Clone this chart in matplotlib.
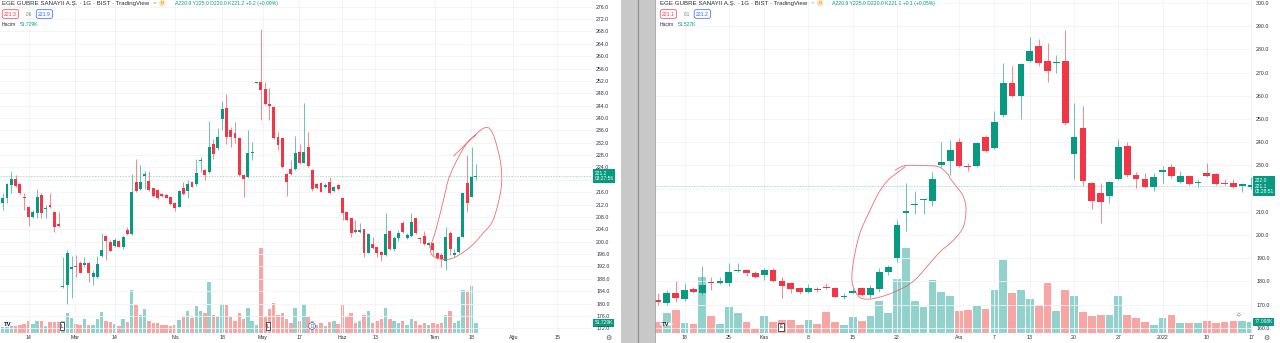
import matplotlib
matplotlib.use('Agg')
import matplotlib.pyplot as plt
import matplotlib.transforms as mtransforms
from matplotlib.patches import Rectangle, Circle
from matplotlib.lines import Line2D
import numpy as np

plt.rcParams['font.family'] = ['Liberation Sans', 'DejaVu Sans']

UP = '#089981'
DOWN = '#f23645'
UP_VOL = '#92d2cc'
DOWN_VOL = '#f7a6a3'
GRID = '#f1f3f7'
TEXT = '#2a2e39'
BLUE = '#2962ff'

# EGE GUBRE, daily, Feb - Jul 2021
left_open = [212.4, 214.2, 218.4, 220.2, 218.7, 214.6, 211.3, 208.1, 209.4, 215.1,
             210.5, 211.9, 209.7, 205.7, 185.2, 186.0, 191.1, 192.2, 193.0, 192.6,
             193.0, 188.5, 188.5, 195.4, 201.8, 199.9, 198.6, 200.2, 198.4, 203.8,
             202.5, 219.4, 217.0, 221.4, 219.6, 217.3, 216.7, 215.4, 215.1, 214.6,
             212.6, 211.3, 217.5, 216.5, 219.2, 218.5, 226.0, 223.2, 222.6, 231.6,
             230.2, 239.6, 243.1, 236.1, 235.3, 233.4, 221.6, 220.8, 228.6, 251.4,
             251.8, 249.4, 244.5, 243.7, 233.8, 233.4, 221.9, 223.4, 223.5, 229.1,
             225.6, 230.5, 223.2, 218.7, 219.1, 217.8, 219.4, 216.5, 218.3, 214.0,
             209.7, 207.6, 203.8, 203.1, 204.0, 196.5, 199.3, 198.2, 196.8, 195.6,
             203.6, 197.5, 201.1, 206.2, 201.1, 201.8, 207.6, 201.3, 201.8, 198.9,
             199.5, 196.2, 195.7, 193.6, 202.9, 195.7, 196.8, 201.6, 218.9, 214.6,
             220.9]
left_high = [215.9, 219.1, 223.0, 221.6, 218.9, 215.9, 211.5, 210.2, 216.9, 215.6,
             211.9, 215.6, 209.9, 209.7, 194.9, 197.3, 195.4, 195.7, 193.9, 195.2,
             193.5, 190.8, 195.4, 202.7, 202.2, 200.7, 201.1, 200.7, 202.2, 204.6,
             221.9, 226.7, 224.8, 223.0, 222.9, 217.5, 216.9, 215.6, 215.3, 214.8,
             212.9, 216.7, 219.4, 219.9, 219.4, 226.6, 227.3, 223.4, 239.1, 233.2,
             236.7, 245.5, 247.8, 237.2, 238.8, 233.8, 221.8, 236.1, 232.3, 251.8,
             268.7, 251.8, 249.6, 243.9, 235.4, 233.6, 222.1, 226.4, 234.2, 231.6,
             244.7, 235.4, 223.4, 218.9, 219.4, 218.9, 220.8, 218.1, 218.7, 214.2,
             209.9, 207.8, 207.0, 206.2, 204.2, 202.7, 201.6, 198.4, 197.0, 209.2,
             203.8, 202.0, 203.8, 206.6, 202.7, 209.2, 207.8, 201.6, 203.3, 200.0,
             199.7, 196.8, 196.2, 204.6, 203.3, 197.5, 202.0, 215.9, 228.0, 230.7,
             225.0]
left_low = [210.2, 212.4, 215.6, 217.8, 215.4, 210.2, 205.2, 207.6, 207.6, 207.6,
            207.6, 210.8, 203.2, 204.9, 184.9, 179.7, 181.7, 188.7, 189.8, 191.9,
            187.1, 186.0, 188.3, 195.2, 194.1, 197.0, 198.2, 198.2, 197.6, 202.2,
            202.2, 216.2, 216.7, 216.9, 216.4, 214.6, 213.8, 214.3, 214.0, 211.9,
            210.0, 211.1, 215.1, 214.0, 217.6, 218.0, 222.6, 219.9, 222.3, 226.7,
            229.7, 236.1, 231.6, 230.7, 232.0, 221.4, 214.6, 220.5, 226.4, 251.3,
            239.4, 244.2, 239.4, 233.1, 229.7, 223.7, 214.8, 221.6, 223.2, 225.1,
            225.3, 224.3, 216.5, 217.0, 216.0, 217.5, 215.4, 216.2, 216.7, 207.0,
            206.8, 201.4, 202.7, 202.7, 195.2, 196.2, 197.7, 194.9, 193.9, 195.4,
            197.3, 197.1, 200.3, 202.9, 200.8, 201.6, 202.5, 199.7, 198.9, 198.4,
            195.7, 194.3, 191.7, 190.9, 195.7, 195.2, 196.2, 201.4, 209.7, 214.3,
            220.0]
left_close = [214.2, 218.5, 220.2, 218.1, 215.6, 214.2, 207.9, 209.7, 214.6, 209.2,
              210.8, 211.3, 204.6, 205.2, 185.5, 196.4, 191.7, 191.7, 190.0, 193.2,
              190.0, 190.0, 192.8, 197.3, 200.1, 197.1, 200.5, 198.4, 201.4, 202.5,
              216.2, 216.5, 219.4, 221.7, 216.7, 214.9, 214.0, 214.7, 214.2, 212.1,
              210.8, 216.5, 215.3, 218.5, 217.8, 222.1, 226.4, 221.6, 230.7, 228.3,
              233.8, 242.8, 234.0, 234.0, 233.4, 221.6, 220.2, 228.8, 228.9, 251.7,
              249.1, 244.5, 243.9, 233.4, 231.3, 224.3, 219.4, 221.9, 228.8, 225.3,
              229.1, 224.6, 216.9, 217.3, 216.2, 218.3, 215.6, 217.8, 216.9, 209.4,
              207.0, 202.7, 203.1, 203.8, 196.5, 202.4, 198.0, 196.2, 195.6, 202.4,
              197.6, 201.1, 202.9, 203.1, 202.2, 206.3, 202.7, 200.8, 199.3, 199.5,
              197.3, 194.6, 194.3, 201.6, 197.5, 196.5, 201.6, 215.6, 212.6, 220.8,
              221.2]
# volume in thousands
left_volume = [30, 30, 35, 35, 40, 45, 60, 45, 60, 60,
               35, 55, 55, 55, 60, 100, 75, 45, 40, 70,
               40, 40, 70, 105, 60, 55, 45, 35, 70, 55,
               215, 140, 90, 120, 60, 50, 50, 40, 40, 35,
               40, 65, 80, 110, 75, 135, 110, 100, 255, 90,
               85, 145, 140, 80, 60, 100, 70, 125, 60, 40,
               425, 80, 120, 150, 90, 100, 70, 50, 125, 60,
               145, 80, 60, 40, 50, 35, 55, 60, 45, 140,
               80, 100, 50, 60, 90, 110, 50, 60, 70, 125,
               70, 60, 50, 60, 40, 70, 60, 40, 50, 40,
               50, 45, 50, 90, 110, 50, 60, 215, 210, 235,
               51.729]
left_ticks = [7.1, 17.8, 27.1, 41.1, 52.0, 61.5, 69.9, 79.9, 87.6, 101.5, 109.9, 119.7, 129.9]
left_tick_labels = ['14', 'Mar', '14', 'Nis', '18', 'May', '17', 'Haz', '13', 'Tem', '18', 'Ağu', '15']

# EGE GUBRE, daily, Oct 2021 - Jan 2022
right_open = [172.0, 170.8, 174.9, 172.3, 176.6, 175.1, 179.9, 179.2, 179.2, 184.6,
              184.9, 183.8, 182.8, 184.9, 180.2, 179.2, 177.3, 175.6, 176.9, 177.7,
              177.0, 173.1, 175.1, 177.3, 174.1, 176.6, 184.2, 190.1, 209.6, 212.8,
              215.0, 214.7, 230.0, 231.9, 240.0, 229.7, 229.7, 242.1, 237.4, 251.7,
              265.4, 259.9, 275.0, 281.5, 275.0, 274.3, 275.1, 234.9, 246.0, 222.3,
              218.0, 217.0, 224.1, 238.5, 225.9, 224.1, 220.8, 227.0, 229.2, 223.0,
              225.6, 222.3, 226.6, 226.3, 222.6, 222.3, 221.1, 220.9]
right_high = [174.9, 176.3, 180.3, 179.2, 177.7, 186.6, 182.0, 182.0, 187.8, 187.8,
              185.2, 184.6, 185.6, 185.6, 181.7, 179.9, 177.7, 178.9, 177.7, 179.2,
              177.7, 175.1, 177.0, 177.7, 178.4, 185.6, 187.1, 206.5, 222.6, 219.0,
              215.6, 227.3, 240.0, 241.0, 241.7, 230.9, 240.2, 243.1, 253.6, 274.0,
              272.8, 274.3, 285.5, 284.3, 282.6, 277.6, 288.4, 257.0, 255.7, 222.7,
              222.3, 223.4, 241.2, 240.0, 227.0, 226.9, 226.6, 229.9, 230.6, 227.7,
              225.9, 224.0, 231.2, 226.9, 224.0, 224.3, 222.6, 225.0]
right_low = [169.8, 169.8, 171.3, 171.7, 175.1, 174.1, 176.3, 178.9, 178.0, 184.2,
             182.3, 181.3, 180.6, 179.9, 172.7, 174.9, 174.6, 175.1, 175.6, 176.6,
             173.1, 172.6, 174.9, 173.7, 172.7, 175.6, 182.8, 188.5, 201.9, 209.0,
             209.0, 212.5, 229.2, 225.9, 229.4, 227.7, 229.4, 235.9, 236.9, 251.0,
             259.6, 249.9, 274.7, 272.8, 266.1, 270.0, 247.4, 224.0, 221.3, 211.2,
             205.3, 213.6, 223.7, 225.1, 220.4, 220.4, 219.1, 222.3, 224.4, 222.3,
             221.5, 220.8, 225.1, 221.4, 221.7, 220.1, 218.7, 220.0]
right_close = [171.3, 175.1, 172.7, 176.3, 175.6, 178.4, 179.2, 180.2, 184.2, 185.0,
               183.8, 182.0, 184.9, 180.2, 178.0, 176.6, 175.6, 177.0, 176.3, 177.0,
               173.4, 173.9, 175.9, 174.1, 177.0, 183.9, 186.0, 204.4, 210.3, 213.5,
               215.4, 224.0, 231.5, 236.6, 229.9, 229.2, 239.8, 236.3, 248.9, 265.4,
               259.9, 273.7, 279.5, 274.0, 270.8, 274.7, 248.4, 242.1, 223.3, 214.7,
               214.4, 223.0, 238.1, 225.9, 224.1, 220.8, 225.1, 228.0, 225.4, 225.6,
               222.0, 223.0, 225.6, 221.8, 222.1, 220.7, 222.0, 221.1]
right_volume = [75, 140, 163, 70, 63, 390, 121, 65, 182, 140,
                75, 28, 117, 79, 89, 89, 58, 89, 63, 149,
                79, 56, 110, 84, 117, 226, 138, 378, 593, 226,
                182, 369, 289, 261, 152, 161, 191, 168, 301, 509,
                282, 299, 238, 196, 348, 154, 301, 257, 147, 119,
                126, 124, 261, 128, 105, 79, 54, 105, 126, 72,
                68, 68, 82, 68, 75, 86, 82, 77.098]
right_ticks = [4, 9, 13, 18, 23, 28, 35, 39, 43, 48, 53, 58, 63, 68]
right_tick_labels = ['18', '25', 'Kas', '8', '15', '22', 'Ara', '7', '13', '20', '27', '2022', '10', '17']

# hand drawn loops (bar index, price)
left_loop_x = [105.8, 108.9, 112.8, 114.7, 116.3, 117.0, 116.7, 115.0, 112.7, 109.7,
               105.7, 102.7, 100.8, 100.5, 101.5, 103.1, 104.6, 106.6, 108.9, 111.0]
left_loop_y = [227.7, 231.9, 236.7, 235.6, 228.7, 222.2, 215.7, 207.0, 202.8, 198.3,
               194.7, 194.4, 195.7, 198.4, 202.8, 211.3, 220.0, 226.4, 231.9, 234.5]
right_loop_x = [27.8, 28.9, 30.8, 32.7, 33.8, 34.0, 34.75, 35.5, 35.8, 35.5, 34.75, 34.0, 32.7,
                30.0, 27.8, 25.5, 24.0, 23.3, 22.9, 23.1, 23.8, 24.8, 25.9, 27.0, 28.2, 28.9]
right_loop_y = [228.0, 229.9, 229.9, 229.4, 225.9, 224.4, 220.8, 216.5, 210.8, 203.6, 199.3, 196.4, 192.1,
                180.6, 175.6, 172.7, 172.7, 175.6, 180.6, 189.2, 200.7, 209.4, 218.0, 223.7, 227.3, 229.4]

W, H = 1280, 343
fig = plt.figure(figsize=(W / 100, H / 100), dpi=100)
fig.patch.set_facecolor('white')


def px(x, y):
    return x / W, 1 - y / H


def catmull_rom(xs, ys, n=14):
    pts = np.column_stack([xs, ys]).astype(float)
    pts = np.vstack([pts[0], pts, pts[-1]])
    t = np.linspace(0, 1, n, endpoint=False)[:, None]
    seg = []
    for i in range(1, len(pts) - 2):
        p0, p1, p2, p3 = pts[i - 1], pts[i], pts[i + 1], pts[i + 2]
        seg.append(0.5 * (2 * p1 + (p2 - p0) * t + (2 * p0 - 5 * p1 + 4 * p2 - p3) * t ** 2
                          + (3 * p1 - p0 - 3 * p2 + p3) * t ** 3))
    seg.append(pts[-2][None])
    out = np.vstack(seg)
    return out[:, 0], out[:, 1]


def draw_panel(x0, x1, o, h, l, c, vol, k_per_px, xlim, ylim, yticks, hidden,
               xticks, xlabels, body_w, vol_w):
    ax = fig.add_axes([x0 / W, 10 / H, (x1 - x0) / W, 333 / H])
    axv = ax.twinx()
    ax.set_zorder(axv.get_zorder() + 1)
    ax.patch.set_visible(False)
    axv.patch.set_facecolor('white')

    o, h, l, c, vol = map(np.asarray, (o, h, l, c, vol))
    x = np.arange(1, len(o) + 1)
    up = c >= o

    axv.bar(x, vol, width=vol_w, color=np.where(up, UP_VOL, DOWN_VOL), linewidth=0)
    axv.set_ylim(0, k_per_px * 333)
    axv.yaxis.set_visible(False)

    col = np.where(up, UP, DOWN)
    ax.vlines(x, l, h, colors=col, linewidth=0.55, alpha=0.75, zorder=3)
    body = np.maximum(np.abs(c - o), (ylim[1] - ylim[0]) / 333 * 1.1)
    ax.bar(x, body, bottom=np.minimum(o, c), width=body_w, color=col, linewidth=0, zorder=4)

    ax.axhline(c[-1], color=UP, linewidth=0.5, linestyle=(0, (2, 2)), alpha=0.5, zorder=2)

    ax.set_xlim(*xlim)
    ax.set_ylim(*ylim)
    ax.yaxis.tick_right()
    ax.set_yticks(yticks)
    ax.set_yticklabels(['' if t == hidden else f'{t:.1f}' for t in yticks])
    ax.set_xticks(xticks)
    ax.set_xticklabels(xlabels)
    ax.tick_params(axis='y', length=0, pad=3, labelsize=3.8, labelcolor=TEXT)
    ax.tick_params(axis='x', length=0, pad=1.3, labelsize=3.8, labelcolor=TEXT)
    ax.set_axisbelow(True)
    ax.grid(True, color=GRID, linewidth=0.6)
    for a in (ax, axv):
        for s in a.spines.values():
            s.set_visible(False)
    return ax, axv


def axis_badge(y, text, owner):
    tr = mtransforms.blended_transform_factory(owner.transAxes, owner.transData)
    owner.text(1.0 + 2.5 / 600, y, text, transform=tr, ha='left', va='center',
               fontsize=3.5, color='white', linespacing=1.15, clip_on=False, zorder=10,
               bbox=dict(boxstyle='square,pad=0.3', fc=UP, ec='none'))


def header(x, ohlc, bid, spread, ask, vol_text, icon_x, ohlc_x):
    fig.text(*px(x, 3), 'EGE GUBRE SANAYII A.Ş. · 1G · BIST · TradingView',
             fontsize=4.4, color=TEXT, va='center', ha='left')
    fig.add_artist(Circle(px(icon_x, 3), 1.4 / W, transform=fig.transFigure, fc=UP, ec='none'))
    fig.text(*px(icon_x + 7, 3.3), 'D', fontsize=3.2, color='#f57c00', ha='center', va='center',
             bbox=dict(boxstyle='circle,pad=0.25', fc='#ffe0b2', ec='none'))
    fig.text(*px(ohlc_x, 3), ohlc, fontsize=3.7, color=UP, va='center', ha='left')
    fig.text(*px(x + 2, 14), bid, fontsize=3.7, color=DOWN, va='center', ha='left',
             bbox=dict(boxstyle='round,pad=0.35,rounding_size=0.4', fc='white', ec=DOWN, lw=0.5))
    fig.text(*px(x + 24, 14), spread, fontsize=3.3, color='#787b86', va='center', ha='left')
    fig.text(*px(x + 36, 14), ask, fontsize=3.7, color=BLUE, va='center', ha='left',
             bbox=dict(boxstyle='round,pad=0.35,rounding_size=0.4', fc='white', ec=BLUE, lw=0.5))
    fig.text(*px(x, 25), 'Hacim', fontsize=3.6, color=TEXT, va='center', ha='left')
    fig.text(*px(x + 18, 25), vol_text, fontsize=3.6, color=UP, va='center', ha='left')


def tv_logo(x, y):
    fig.add_artist(Circle(px(x, y), 6.5 / W, transform=fig.transFigure, fc='white',
                          ec='#e0e3eb', lw=0.4, zorder=20))
    fig.text(*px(x, y), 'TV', fontsize=4.2, fontweight='bold', color='#131722',
             ha='center', va='center', zorder=21)


def event_box(x, y, letter, color='#131722', round_=False):
    style = 'circle,pad=0.2' if round_ else 'square,pad=0.25'
    fig.text(*px(x, y), letter, fontsize=3.3, color=color, ha='center', va='center', zorder=21,
             bbox=dict(boxstyle=style, fc='white', ec=color, lw=0.5))


# left chart
axL, axLv = draw_panel(0, 592, left_open, left_high, left_low, left_close, left_volume, 5.0,
                       (0.37, 138.0), (170.47, 278.17), list(range(172, 277, 4)), 220,
                       left_ticks, left_tick_labels, 0.68, 0.8)
lx, ly = catmull_rom(left_loop_x, left_loop_y)
axL.plot(lx, ly, color='#ef5350', linewidth=0.6, alpha=0.85, zorder=6)
axis_badge(left_close[-1], f'{left_close[-1]:.1f}\n03:27:56', axL)
axis_badge(left_volume[-1], '51.729K', axLv)

# right chart
axR, axRv = draw_panel(655, 1252, right_open, right_high, right_low, right_close, right_volume, 7.0,
                       (0.66, 68.1), (157.76, 301.3), list(range(160, 301, 10)), 220,
                       right_ticks, right_tick_labels, 0.76, 0.88)
rx, ry = catmull_rom(right_loop_x, right_loop_y)
axR.plot(rx, ry, color='#ef5350', linewidth=0.6, alpha=0.85, zorder=6)
axis_badge(right_close[-1], f'222.0\n{right_close[-1]:.1f}\n02:28:51', axR)
axis_badge(right_volume[-1], '77.098K', axRv)

# gray split between the two windows
fig.add_artist(Rectangle(px(621, 343), 34 / W, 1, transform=fig.transFigure,
                         fc='#c8c8c8', ec='none', zorder=30))
fig.add_artist(Line2D([638.3 / W] * 2, [0, 1], transform=fig.transFigure,
                      color='#8c8c8c', linewidth=0.8, zorder=31))
fig.add_artist(Line2D([655.3 / W] * 2, [0, 1], transform=fig.transFigure,
                      color='#a0a0a0', linewidth=0.6, zorder=31))

header(2, 'A220.9 Y225.0 D220.0 K221.2 +0.2 (+0.09%)', '221.3', '0.6', '221.9', '51.729K', 155, 175)
header(660, 'A220.9 Y225.0 D220.0 K221.1 +0.1 (+0.05%)', '221.1', '0.1', '221.2', '51.527K', 813, 832)

tv_logo(8, 324)
tv_logo(666, 324)
event_box(62, 326, 'L')
event_box(268, 326, 'L')
event_box(312, 326, 'D', BLUE, round_=True)
event_box(781, 327, 'E')

fig.add_artist(Circle(px(1239, 314), 5.5 / W, transform=fig.transFigure, fc='white',
                      ec='#e0e3eb', lw=0.4, zorder=20))
fig.text(*px(1239, 314), '◇', fontsize=3.5, color='#131722', ha='center', va='center', zorder=21)
fig.text(*px(608, 338), '⚙', fontsize=5, color='#50535e', ha='center', va='center')
fig.text(*px(1266, 338), '⚙', fontsize=5, color='#50535e', ha='center', va='center')

fig.savefig('out.png', dpi=100, facecolor='white')
